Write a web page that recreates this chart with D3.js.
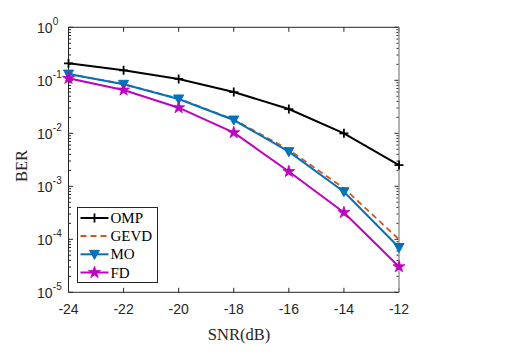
<!DOCTYPE html>
<html><head><meta charset="utf-8">
<script src="https://d3js.org/d3.v7.min.js"></script>
<style>body{margin:0;background:#fff}svg{display:block}</style>
</head><body>
<script>
const snr = [-24, -22, -20, -18, -16, -14, -12];
const ompBER  = [0.209, 0.154, 0.106, 0.060, 0.0287, 0.0100, 0.00252];
const gevdBER = [0.132, 0.085, 0.045, 0.0182, 0.0049, 0.00092, 0.000100];
const moBER   = [0.131, 0.084, 0.0444, 0.0178, 0.0045, 0.00079, 0.000070];
const fdBER   = [0.109, 0.0656, 0.0304, 0.0103, 0.0019, 0.00032, 0.0000304];
const xTicks = [-24, -22, -20, -18, -16, -14, -12];
const yExps = [0, -1, -2, -3, -4, -5];

const series = [
  {name:"OMP", values: ompBER, color:"#000000", dash:null, marker:"plus"},
  {name:"GEVD", values: gevdBER, color:"#D95319", dash:"6,4", marker:null},
  {name:"MO", values: moBER, color:"#0072BD", dash:null, marker:"tri"},
  {name:"FD", values: fdBER, color:"#C000C0", dash:null, marker:"star"}
];

const W = 526, H = 360;
const L = 68.5, R = 399, T = 27.3, B = 292.3;
const svg = d3.select("body").append("svg").attr("width", W).attr("height", H);
const x = d3.scaleLinear().domain([-24, -12]).range([L, R]);
const y = d3.scaleLog().domain([1e-5, 1]).range([B, T]);
const axisColor = "#262626";
const sans = "'Liberation Sans', Arial, sans-serif";
const serif = "'Liberation Serif', 'Times New Roman', serif";

const g = svg.append("g");
g.append("rect").attr("x", L).attr("y", T).attr("width", R - L).attr("height", B - T)
  .attr("fill", "#fff").attr("stroke", "none");

const tl = 4.5;
xTicks.forEach(v => {
  const px = x(v);
  g.append("line").attr("x1", px).attr("x2", px).attr("y1", B).attr("y2", B - tl).attr("stroke", axisColor);
  g.append("line").attr("x1", px).attr("x2", px).attr("y1", T).attr("y2", T + tl).attr("stroke", axisColor);
  g.append("text").attr("x", px).attr("y", 313.5).attr("text-anchor", "middle")
    .attr("font-family", sans).attr("font-size", 14).attr("fill", axisColor).text(v < 0 ? "-" + Math.abs(v) : v);
});
yExps.forEach(e => {
  const py = y(Math.pow(10, e));
  g.append("line").attr("x1", L).attr("x2", L + tl).attr("y1", py).attr("y2", py).attr("stroke", axisColor);
  g.append("line").attr("x1", R).attr("x2", R - tl).attr("y1", py).attr("y2", py).attr("stroke", axisColor);
  g.append("text").attr("x", 52.5).attr("y", py + 6).attr("text-anchor", "end")
    .attr("font-family", sans).attr("font-size", 14).attr("fill", axisColor).text("10");
  g.append("text").attr("x", 52.8).attr("y", py - 2).attr("text-anchor", "start")
    .attr("font-family", sans).attr("font-size", 10).attr("fill", axisColor).text(e === 0 ? "0" : "-" + Math.abs(e));
  if (e > -5) {
    for (let m = 2; m <= 9; m++) {
      const pm = y(m * Math.pow(10, e - 1));
      g.append("line").attr("x1", L).attr("x2", L + 2.5).attr("y1", pm).attr("y2", pm).attr("stroke", axisColor);
      g.append("line").attr("x1", R).attr("x2", R - 2.5).attr("y1", pm).attr("y2", pm).attr("stroke", axisColor);
    }
  }
});
g.append("line").attr("x1", L).attr("x2", R).attr("y1", T).attr("y2", T).attr("stroke", axisColor);
g.append("line").attr("x1", L).attr("x2", R).attr("y1", B).attr("y2", B).attr("stroke", axisColor);
g.append("line").attr("x1", L).attr("x2", L).attr("y1", T).attr("y2", B).attr("stroke", axisColor);
g.append("line").attr("x1", R).attr("x2", R).attr("y1", T).attr("y2", B).attr("stroke", "#9a9a9a").attr("stroke-width", 1.5);

function drawMarker(sel, type, cx, cy, color) {
  if (type === "plus") {
    sel.append("path").attr("d", `M${cx-4.5},${cy}H${cx+4.5}M${cx},${cy-4.5}V${cy+4.5}`)
      .attr("stroke", color).attr("stroke-width", 1.8).attr("fill", "none");
  } else if (type === "tri") {
    const s = 5;
    sel.append("path").attr("d", `M${cx-s},${cy-s*0.8}L${cx+s},${cy-s*0.8}L${cx},${cy+s}Z`)
      .attr("fill", color).attr("stroke", color).attr("stroke-width", 1);
  } else if (type === "star") {
    const star = d3.symbol().type(d3.symbolStar).size(45);
    sel.append("path").attr("d", star()).attr("transform", `translate(${cx},${cy})`)
      .attr("fill", color).attr("stroke", color).attr("stroke-width", 0.8);
  }
}

const line = d3.line().x((d, i) => x(snr[i])).y(d => y(d));
series.forEach(s => {
  g.append("path").attr("d", line(s.values)).attr("fill", "none").attr("stroke", s.color)
    .attr("stroke-width", s.name === "GEVD" ? 1.8 : 2).attr("stroke-dasharray", s.dash);
});
series.forEach(s => {
  if (s.marker) s.values.forEach((v, i) => drawMarker(g, s.marker, x(snr[i]), y(v), s.color));
});

svg.append("text").attr("x", 239).attr("y", 340).attr("text-anchor", "middle")
  .attr("font-family", serif).attr("font-size", 16.5).attr("fill", axisColor).text("SNR(dB)");
svg.append("text").attr("transform", "translate(27,166) rotate(-90)").attr("text-anchor", "middle")
  .attr("font-family", serif).attr("font-size", 16.5).attr("fill", axisColor).text("BER");

const lg = svg.append("g");
lg.append("rect").attr("x", 77.5).attr("y", 207.5).attr("width", 80).attr("height", 75)
  .attr("fill", "#fff").attr("stroke", axisColor).attr("stroke-width", 1);
const ly = [218, 236, 254.3, 272.5];
series.forEach((s, i) => {
  lg.append("line").attr("x1", 80.5).attr("x2", 108.5).attr("y1", ly[i]).attr("y2", ly[i])
    .attr("stroke", s.color).attr("stroke-width", s.name === "GEVD" ? 1.8 : 2).attr("stroke-dasharray", s.dash);
  if (s.marker) drawMarker(lg, s.marker, 94.5, ly[i], s.color);
  lg.append("text").attr("x", 110.5).attr("y", ly[i] + 5).attr("font-family", serif)
    .attr("font-size", 15).attr("fill", "#000").text(s.name);
});
</script>
</body></html>
